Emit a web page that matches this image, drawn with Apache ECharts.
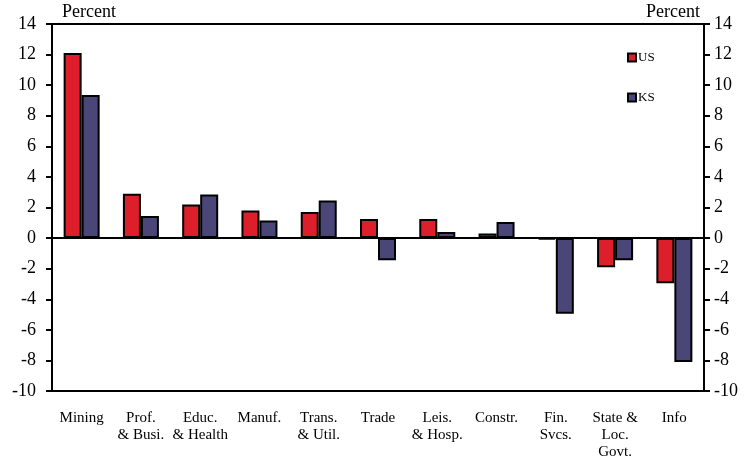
<!DOCTYPE html>
<html>
<head>
<meta charset="utf-8">
<script src="https://cdn.jsdelivr.net/npm/echarts@6/dist/echarts.min.js"></script>
<style>
  html, body { margin: 0; padding: 0; background: #fff; }
  #chart { width: 750px; height: 462px; }
</style>
</head>
<body>
<div id="chart"></div>
<script>
// Employment growth by industry, percent
const categories = [
  'Mining', 'Prof.\n& Busi.', 'Educ.\n& Health', 'Manuf.', 'Trans.\n& Util.',
  'Trade', 'Leis.\n& Hosp.', 'Constr.', 'Fin.\nSvcs.', 'State &\nLoc.\nGovt.', 'Info'
];
const usValues = [12.1, 2.9, 2.2, 1.8, 1.7, 1.25, 1.25, 0.3, -0.1, -1.9, -2.95];
const ksValues = [9.35, 1.45, 2.85, 1.15, 2.45, -1.45, 0.4, 1.05, -4.95, -1.45, -8.1];
const yTicks = { min: -10, max: 14, interval: 2 };

const FONT = '"Liberation Serif", "Times New Roman", serif';
const chart = echarts.init(document.getElementById('chart'));

const yAxisBase = {
  type: 'value',
  min: yTicks.min,
  max: yTicks.max,
  interval: yTicks.interval,
  splitLine: { show: false },
  axisLine: { show: true, lineStyle: { color: '#000', width: 2 } },
  axisTick: { show: true, length: 6, lineStyle: { color: '#000', width: 2 } },
  axisLabel: { color: '#000', fontFamily: FONT, fontSize: 18 }
};

chart.setOption({
  animation: false,
  backgroundColor: '#fff',
  grid: {
    left: 52, right: 46, top: 24, bottom: 71,
    show: true, borderColor: '#000', borderWidth: 2
  },
  legend: {
    orient: 'vertical',
    left: 622, top: 46,
    itemGap: 27,
    itemWidth: 8, itemHeight: 8,
    icon: 'rect',
    textStyle: { fontFamily: FONT, fontSize: 13, color: '#000', padding: [2, 0, 0, -3] },
    data: ['US', 'KS']
  },
  graphic: [
    { type: 'text', left: 62, top: 3, style: { text: 'Percent', font: '18px ' + FONT, fill: '#000' } },
    { type: 'text', right: 50, top: 3, style: { text: 'Percent', font: '18px ' + FONT, fill: '#000' } }
  ],
  xAxis: {
    type: 'category',
    data: categories,
    position: 'bottom',
    axisLine: { show: false, onZero: false },
    axisTick: { show: false },
    axisLabel: {
      color: '#000', fontFamily: FONT, fontSize: 15, lineHeight: 17,
      margin: 19, interval: 0
    }
  },
  yAxis: [
    Object.assign({}, yAxisBase, { position: 'left', axisLabel: Object.assign({}, yAxisBase.axisLabel, { margin: 16 }) }),
    Object.assign({}, yAxisBase, { position: 'right', axisLabel: Object.assign({}, yAxisBase.axisLabel, { margin: 10 }) })
  ],
  series: [
    {
      name: 'US', type: 'bar', data: usValues,
      barWidth: 18, barGap: '0%',
      itemStyle: { color: '#DC1F2B', borderColor: '#000', borderWidth: 2 },
      markLine: {
        silent: true, symbol: 'none', label: { show: false },
        lineStyle: { color: '#000', width: 2, type: 'solid' },
        data: [{ yAxis: 0 }]
      }
    },
    {
      name: 'KS', type: 'bar', data: ksValues,
      barWidth: 18,
      itemStyle: { color: '#4A4778', borderColor: '#000', borderWidth: 2 }
    }
  ]
});
</script>
</body>
</html>
